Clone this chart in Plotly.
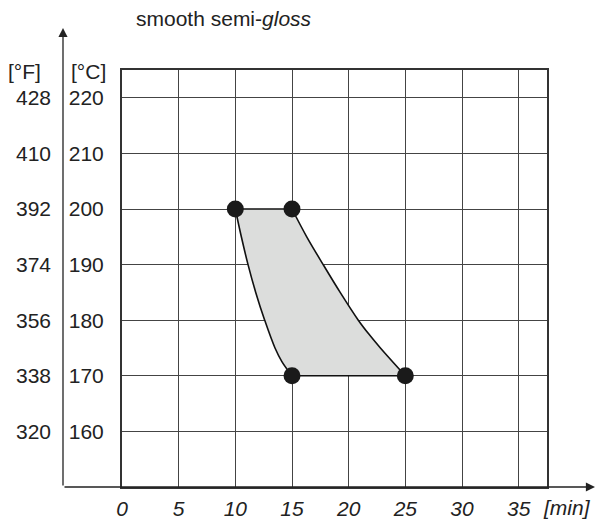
import plotly.graph_objects as go

# ---- data ----
minute_ticks = [0, 5, 10, 15, 20, 25, 30, 35]
celsius_ticks = [160, 170, 180, 190, 200, 210, 220]
fahrenheit_labels = ["320", "338", "356", "374", "392", "410", "428"]

# curing window corners (min, °C)
corner_min = [10, 15, 25, 15]
corner_temp = [200, 200, 170, 170]

# curved edges
left_edge_min = [10, 10.53, 11.12, 11.8, 12.59, 13.5, 14.12, 15]
left_edge_temp = [200, 195, 190, 185, 180, 175, 172.5, 170]
right_edge_min = [15, 16.3, 17.75, 19.25, 20.85, 21.78, 22.8, 25]
right_edge_temp = [200, 195, 190, 185, 180, 177.5, 175, 170]

title_text = "smooth semi-<i>gloss</i>"

W, H = 596, 521
L_PX, R_PX, T_PX, B_PX = 122, 547, 70, 487

FONT = "Liberation Sans, Arial, sans-serif"
TXT = "#222222"
FS = 21
GRID = "#444444"

fig = go.Figure()

# filled window
fill_x = [corner_min[0], corner_min[1]] + right_edge_min[1:] + [corner_min[3]] + left_edge_min[::-1][1:]
fill_y = [corner_temp[0], corner_temp[1]] + right_edge_temp[1:] + [corner_temp[3]] + left_edge_temp[::-1][1:]
fig.add_trace(go.Scatter(x=fill_x, y=fill_y, mode="lines", fill="toself",
                         fillcolor="#dcdddc", line=dict(width=0),
                         hoverinfo="skip", showlegend=False))
# outline: straight top/bottom
fig.add_trace(go.Scatter(x=[corner_min[0], corner_min[1]], y=[corner_temp[0], corner_temp[1]],
                         mode="lines", line=dict(color="#111111", width=1.6), showlegend=False))
fig.add_trace(go.Scatter(x=[corner_min[3], corner_min[2]], y=[corner_temp[3], corner_temp[2]],
                         mode="lines", line=dict(color="#111111", width=1.6), showlegend=False))
# curved edges
fig.add_trace(go.Scatter(x=left_edge_min, y=left_edge_temp, mode="lines",
                         line=dict(color="#111111", width=1.6, shape="spline", smoothing=1.0),
                         showlegend=False))
fig.add_trace(go.Scatter(x=right_edge_min, y=right_edge_temp, mode="lines",
                         line=dict(color="#111111", width=1.6, shape="spline", smoothing=1.0),
                         showlegend=False))
# corner markers
fig.add_trace(go.Scatter(x=corner_min, y=corner_temp, mode="markers",
                         marker=dict(size=17, color="#1a1a1a"), showlegend=False))

# invisible trace for the °F axis
fig.add_trace(go.Scatter(x=[None], y=[None], yaxis="y2", showlegend=False))

fig.update_layout(
    width=W, height=H,
    margin=dict(l=0, r=0, t=T_PX, b=H - B_PX, autoexpand=False),
    paper_bgcolor="white", plot_bgcolor="white",
    font=dict(family=FONT, size=FS, color=TXT),
    xaxis=dict(domain=[L_PX / W, R_PX / W], range=[0, 37.5],
               tickvals=minute_ticks, ticktext=["<i>%d</i>" % v for v in minute_ticks],
               showgrid=True, gridcolor=GRID, gridwidth=1.3,
               showline=True, linecolor="#333333", linewidth=2, mirror=True,
               zeroline=False, ticks="", ticklabelstandoff=2, automargin=False),
    yaxis=dict(range=[150, 225], tickvals=celsius_ticks,
               ticktext=[str(v) for v in celsius_ticks],
               showgrid=True, gridcolor=GRID, gridwidth=1.3,
               showline=True, linecolor="#333333", linewidth=2, mirror=True,
               zeroline=False, ticks="", ticklabelstandoff=12, automargin=False),
    yaxis2=dict(range=[150, 225], tickvals=celsius_ticks, ticktext=fahrenheit_labels,
                overlaying="y", anchor="free", position=51 / W, side="left",
                showgrid=False, showline=False, zeroline=False, ticks="", automargin=False,
                ticklabelstandoff=0),
)

ypx = lambda p: (B_PX - p) / (B_PX - T_PX)

anns = [
    dict(text=title_text, x=224 / W, y=ypx(18), xref="paper", yref="paper",
         xanchor="center", yanchor="middle", showarrow=False),
    dict(text="[°F]", x=24 / W, y=ypx(72), xref="paper", yref="paper",
         xanchor="center", yanchor="middle", showarrow=False),
    dict(text="[°C]", x=69 / W, y=ypx(72), xref="paper", yref="paper",
         xanchor="left", yanchor="middle", showarrow=False),
    dict(text="<i>[min]</i>", x=567 / W, y=ypx(508), xref="paper", yref="paper",
         xanchor="center", yanchor="middle", showarrow=False),
    # y arrow
    dict(text="", x=63 / W, y=ypx(28), xref="paper", yref="paper", showarrow=True,
         ax=0, ay=B_PX - 28, arrowhead=2, arrowsize=1.4, arrowwidth=1.3, arrowcolor="#222222",
         standoff=0, startstandoff=0),
    # x arrow
    dict(text="", x=595 / W, y=0, xref="paper", yref="paper", showarrow=True,
         ax=-(595 - 63), ay=0, arrowhead=2, arrowsize=1.4, arrowwidth=1.3, arrowcolor="#222222",
         standoff=0, startstandoff=0),
]
fig.update_layout(annotations=anns)

fig.write_html("out.html", config={"displayModeBar": False},
               post_script="document.body.style.margin='0';document.body.style.overflow='hidden';")
